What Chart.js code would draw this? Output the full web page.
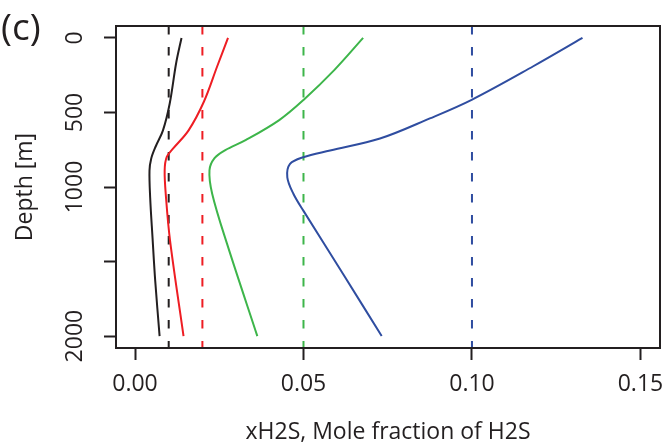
<!DOCTYPE html>
<html>
<head>
<meta charset="utf-8">
<script src="https://cdn.jsdelivr.net/npm/chart.js@4.4.1/dist/chart.umd.min.js"></script>
<style>
  body { margin: 0; background: #fff; }
</style>
</head>
<body>
<canvas id="grafico" width="665" height="448"></canvas>
<script>
// valores (c): fração molar de H2S x profundidade
const profPreta = [0, 170, 440, 620, 730, 810, 890, 1070, 1340, 1630, 2000];
const xPreta = [0.0138, 0.0122, 0.0103, 0.0083, 0.0061, 0.0048, 0.0043, 0.0045, 0.0052, 0.0060, 0.0073];

const profVermelha = [0, 190, 430, 620, 740, 800, 890, 1070, 1360, 2000];
const xVermelha = [0.0276, 0.0244, 0.0204, 0.0159, 0.0114, 0.0094, 0.0088, 0.0092, 0.0104, 0.0144];

const profVerde = [0, 214, 416, 551, 686, 753, 807, 888, 1045, 1380, 2000];
const xVerde = [0.0677, 0.0592, 0.0500, 0.0428, 0.0328, 0.0268, 0.0236, 0.0221, 0.0229, 0.0273, 0.0363];

const profAzul = [0, 190, 415, 540, 675, 755, 800, 845, 935, 1045, 1160, 1585, 2000];
const xAzul = [0.1328, 0.1182, 0.0999, 0.0875, 0.0727, 0.0579, 0.0499, 0.0460, 0.0452, 0.0470, 0.0500, 0.0618, 0.0732];

// linhas tracejadas verticais (valores de referência)
const xReferencia = [0.01, 0.02, 0.05, 0.10];

const ticksX = [0, 0.05, 0.10, 0.15];
const rotulosX = ['0.00', '0.05', '0.10', '0.15'];
const ticksProf = [0, 500, 1000, 1500, 2000];
const rotulosProf = ['0', '500', '1000', '', '2000'];

const cores = ['#231F20', '#EE1D23', '#3DB54A', '#2F4DA0'];
const corTexto = '#231F20';
const fonte = 'Open Sans';

function montarPontos(xs, profs) {
    return xs.map((v, i) => ({ x: v, y: profs[i] }));
}

const curvas = [
    montarPontos(xPreta, profPreta),
    montarPontos(xVermelha, profVermelha),
    montarPontos(xVerde, profVerde),
    montarPontos(xAzul, profAzul)
];

let datasets = [];
curvas.forEach((pontos, i) => {
    datasets.push({
        data: pontos,
        showLine: true,
        borderColor: cores[i],
        borderWidth: 2,
        pointRadius: 0,
        tension: 0.35
    });
});
xReferencia.forEach((v, i) => {
    datasets.push({
        data: [{ x: v, y: -80 }, { x: v, y: 2080 }],
        showLine: true,
        borderColor: cores[i],
        borderWidth: 2,
        borderDash: [8.5, 12.5],
        pointRadius: 0
    });
});

// moldura da área do gráfico + rótulo (c)
const moldura = {
    id: 'moldura',
    afterDraw(chart) {
        const ctx = chart.ctx;
        const a = chart.chartArea;
        ctx.save();
        ctx.strokeStyle = corTexto;
        ctx.lineWidth = 2;
        ctx.strokeRect(a.left, a.top, a.right - a.left, a.bottom - a.top);
        ctx.fillStyle = corTexto;
        ctx.font = '37px "' + fonte + '"';
        ctx.textBaseline = 'alphabetic';
        ctx.fillText('(c)', 1, 40);
        ctx.restore();
    }
};

function semSobra(s) {
    s.paddingLeft = 0;
    s.paddingRight = 0;
    s.paddingTop = 0;
    s.paddingBottom = 0;
}

const config = {
    type: 'scatter',
    data: { datasets: datasets },
    options: {
        responsive: false,
        animation: false,
        devicePixelRatio: 1,
        layout: { padding: { top: 26, right: 5, left: 0, bottom: 0 } },
        plugins: { legend: { display: false }, tooltip: { enabled: false } },
        scales: {
            x: {
                type: 'linear',
                min: -0.00564,
                max: 0.1558,
                afterBuildTicks: (s) => { s.ticks = ticksX.map(v => ({ value: v })); },
                afterFit: (s) => { s.height = 100; semSobra(s); },
                border: { display: false },
                grid: { drawOnChartArea: false, drawTicks: true, tickLength: 12, tickWidth: 2, tickColor: corTexto },
                ticks: {
                    color: corTexto,
                    font: { family: fonte, size: 23 },
                    padding: 11,
                    maxRotation: 0,
                    autoSkip: false,
                    callback: (v, i) => rotulosX[i]
                },
                title: {
                    display: true,
                    text: 'xH2S, Mole fraction of H2S',
                    color: corTexto,
                    font: { family: fonte, size: 23 },
                    padding: { top: 0, bottom: 2 }
                }
            },
            y: {
                type: 'linear',
                reverse: true,
                min: -80,
                max: 2080,
                afterBuildTicks: (s) => { s.ticks = ticksProf.map(v => ({ value: v })); },
                afterFit: (s) => { s.width = 116; semSobra(s); },
                border: { display: false },
                grid: { drawOnChartArea: false, drawTicks: true, tickLength: 12, tickWidth: 2, tickColor: corTexto },
                ticks: {
                    color: corTexto,
                    font: { family: fonte, size: 23 },
                    padding: 2,
                    minRotation: 90,
                    maxRotation: 90,
                    crossAlign: 'center',
                    autoSkip: false,
                    callback: (v, i) => rotulosProf[i]
                },
                title: {
                    display: true,
                    text: 'Depth [m]',
                    color: corTexto,
                    font: { family: fonte, size: 23 },
                    padding: { top: 12, bottom: 0 }
                }
            }
        }
    },
    plugins: [moldura]
};

let meuGrafico = new Chart(document.getElementById('grafico'), config);
</script>
</body>
</html>
